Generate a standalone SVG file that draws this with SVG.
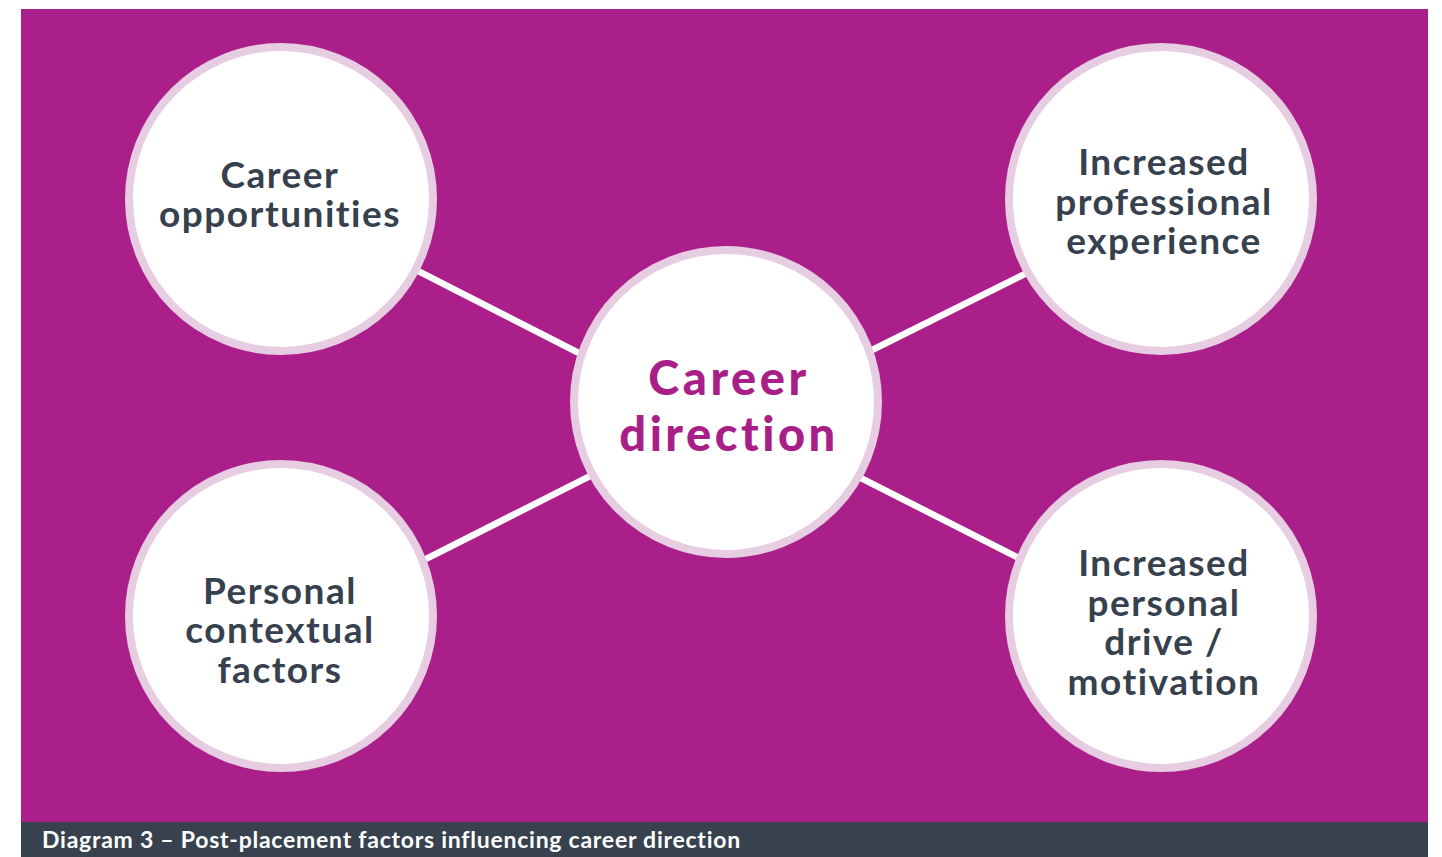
<svg xmlns="http://www.w3.org/2000/svg" width="1442" height="857" viewBox="0 0 1442 857">
  <style>
    .bubble { fill: #ffffff; stroke: #e6cde2; stroke-width: 8; }
    .label { font-family: "Lato", "Open Sans", "Liberation Sans", sans-serif; font-weight: bold; font-size: 37px; letter-spacing: 1.5px; fill: #36414d; text-anchor: middle; }
    .hub { font-family: "Lato", "Open Sans", "Liberation Sans", sans-serif; font-weight: 900; font-size: 47px; letter-spacing: 3.5px; fill: #a91f88; text-anchor: middle; }
    .link { stroke: #ffffff; stroke-width: 6.5; }
    .caption { font-family: "Lato", "Open Sans", "Liberation Sans", sans-serif; font-weight: bold; font-size: 23px; letter-spacing: 0.75px; fill: #ffffff; }
  </style>

  <!-- panel and caption bar -->
  <rect x="21" y="9" width="1407" height="814" fill="#ab1f8a"/>
  <rect x="21" y="822" width="1407" height="35" fill="#37424e"/>
  <text class="caption" x="42" y="848">Diagram 3 – Post-placement factors influencing career direction</text>

  <!-- spokes from the hub to each factor -->
  <g id="connectors">
    <line class="link" x1="380" y1="251.6" x2="620" y2="374"/>
    <line class="link" x1="830" y1="371" x2="1060" y2="256.6"/>
    <line class="link" x1="390" y1="577.2" x2="630" y2="455.8"/>
    <line class="link" x1="830" y1="462.3" x2="1060" y2="579"/>
  </g>

  <g id="node-career-opportunities">
    <circle class="bubble" cx="281" cy="199" r="152"/>
    <text class="label" x="280" y="188">Career</text>
    <text class="label" x="280" y="227">opportunities</text>
  </g>

  <g id="node-professional-experience">
    <circle class="bubble" cx="1161" cy="199" r="152"/>
    <text class="label" x="1164" y="175">Increased</text>
    <text class="label" x="1164" y="215">professional</text>
    <text class="label" x="1164" y="254">experience</text>
  </g>

  <g id="node-personal-factors">
    <circle class="bubble" cx="281" cy="616" r="152"/>
    <text class="label" x="280" y="604">Personal</text>
    <text class="label" x="280" y="643">contextual</text>
    <text class="label" x="280" y="683">factors</text>
  </g>

  <g id="node-personal-drive">
    <circle class="bubble" cx="1161" cy="616" r="152"/>
    <text class="label" x="1164" y="576">Increased</text>
    <text class="label" x="1164" y="616">personal</text>
    <text class="label" x="1164" y="655">drive /</text>
    <text class="label" x="1164" y="695">motivation</text>
  </g>

  <g id="node-career-direction">
    <circle class="bubble" cx="726" cy="402" r="152"/>
    <text class="hub" x="729" y="395">Career</text>
    <text class="hub" x="729" y="451">direction</text>
  </g>
</svg>
